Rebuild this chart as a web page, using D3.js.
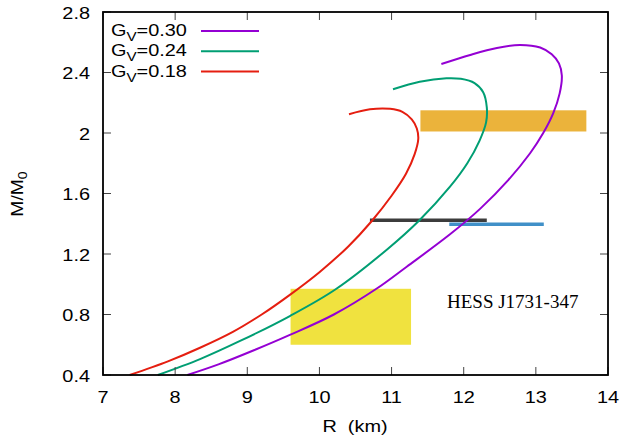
<!DOCTYPE html>
<html>
<head>
<meta charset="utf-8">
<script src="https://cdn.jsdelivr.net/npm/d3@7"></script>
<style>
  body { margin: 0; background: #fff; }
  svg { display: block; }
  text { font-family: "Liberation Sans", Arial, sans-serif; }
</style>
</head>
<body>
<svg id="chart" width="631" height="438"></svg>
<script>
// ---------- data ----------
const seriesLabels = ["0.30", "0.24", "0.18"];
const seriesColors = ["#9400d3", "#009e73", "#e51e10"];

// mass–radius curves: [R (km), M/M0]
const curveGv030 = [
  [8.17,0.40],[8.6,0.47],[9.1,0.565],[9.59,0.665],[10.2,0.80],[10.79,0.97],
  [11.21,1.116],[11.81,1.33],[12.23,1.50],[12.62,1.69],[12.92,1.866],[13.10,1.998],
  [13.24,2.13],[13.33,2.262],[13.36,2.38],[13.32,2.46],[13.22,2.52],[13.06,2.565],
  [12.78,2.582],[12.46,2.562],[12.09,2.516],[11.69,2.456]
];
const curveGv024 = [
  [7.76,0.40],[8.345,0.505],[8.9,0.625],[9.59,0.79],[10.22,0.965],[10.95,1.235],
  [11.39,1.425],[11.81,1.645],[12.05,1.80],[12.22,1.95],[12.31,2.07],[12.32,2.17],
  [12.27,2.27],[12.15,2.33],[11.96,2.358],[11.76,2.362],[11.39,2.339],[11.02,2.289]
];
const curveGv018 = [
  [7.37,0.40],[7.9,0.49],[8.345,0.58],[8.8,0.685],[9.2,0.80],[9.59,0.93],
  [10.0,1.08],[10.4,1.25],[10.72,1.415],[11.0,1.585],[11.2,1.73],[11.32,1.86],
  [11.37,1.96],[11.35,2.03],[11.28,2.09],[11.15,2.14],[10.98,2.16],[10.70,2.157],
  [10.41,2.124]
];
const curves = [curveGv030, curveGv024, curveGv018];

// observational constraints
const yellowBox = { r0: 9.60, r1: 11.27, m0: 0.60, m1: 0.97 };   // HESS J1731-347
const orangeBox = { r0: 11.40, r1: 13.70, m0: 2.01, m1: 2.15 };
const blackBar  = { r0: 10.70, r1: 12.32, m: 1.423 };
const blueBar   = { r0: 11.80, r1: 13.11, m: 1.396 };
const hessLabel = "HESS J1731-347";

const xTicks = [7, 8, 9, 10, 11, 12, 13, 14];
const yTicks = [0.4, 0.8, 1.2, 1.6, 2.0, 2.4, 2.8];
const yTickLabels = ["0.4", "0.8", "1.2", "1.6", "2", "2.4", "2.8"];

// ---------- layout ----------
const svg = d3.select("#chart");
const L = 103, R = 608, T = 12, B = 375;
const SX = 1.17; // horizontal stretch of the sans text
const x = d3.scaleLinear().domain([7, 14]).range([L, R]);
const y = d3.scaleLinear().domain([0.4, 2.8]).range([B, T]);

// constraint boxes & bars
svg.append("rect")
  .attr("x", x(yellowBox.r0)).attr("y", y(yellowBox.m1))
  .attr("width", x(yellowBox.r1) - x(yellowBox.r0))
  .attr("height", y(yellowBox.m0) - y(yellowBox.m1))
  .attr("fill", "#f0e23f");
svg.append("rect")
  .attr("x", x(orangeBox.r0)).attr("y", y(orangeBox.m1))
  .attr("width", x(orangeBox.r1) - x(orangeBox.r0))
  .attr("height", y(orangeBox.m0) - y(orangeBox.m1))
  .attr("fill", "#ebb33b");
svg.append("line")
  .attr("x1", x(blackBar.r0)).attr("x2", x(blackBar.r1))
  .attr("y1", y(blackBar.m)).attr("y2", y(blackBar.m))
  .attr("stroke", "#3c3c3c").attr("stroke-width", 3.5);
svg.append("line")
  .attr("x1", x(blueBar.r0)).attr("x2", x(blueBar.r1))
  .attr("y1", y(blueBar.m)).attr("y2", y(blueBar.m))
  .attr("stroke", "#4090c8").attr("stroke-width", 3.5);

// curves
const line = d3.line()
  .x(d => x(d[0])).y(d => y(d[1]))
  .curve(d3.curveCatmullRom.alpha(0.5));
curves.forEach((c, i) => {
  svg.append("path").datum(c)
    .attr("d", line)
    .attr("fill", "none")
    .attr("stroke", seriesColors[i])
    .attr("stroke-width", 2)
    .attr("stroke-linejoin", "round");
});

// HESS label
svg.append("text")
  .attr("x", 447).attr("y", 308)
  .style("font-family", "'Liberation Serif', 'Times New Roman', serif")
  .style("font-size", "19px")
  .attr("fill", "#000")
  .text(hessLabel);

// ticks (inward, all four sides)
const tickLen = 8;
const tg = svg.append("g").attr("stroke", "#444").attr("stroke-width", 1);
xTicks.forEach(t => {
  tg.append("line").attr("x1", x(t)).attr("x2", x(t)).attr("y1", B).attr("y2", B - tickLen);
  tg.append("line").attr("x1", x(t)).attr("x2", x(t)).attr("y1", T).attr("y2", T + tickLen);
});
yTicks.forEach(t => {
  tg.append("line").attr("x1", L).attr("x2", L + tickLen).attr("y1", y(t)).attr("y2", y(t));
  tg.append("line").attr("x1", R).attr("x2", R - tickLen).attr("y1", y(t)).attr("y2", y(t));
});

// tick labels
xTicks.forEach(t => {
  svg.append("text").attr("transform", `translate(${x(t)},403) scale(${SX},1)`)
    .attr("text-anchor", "middle").style("font-size", "17px").text(t);
});
yTicks.forEach((t, i) => {
  svg.append("text").attr("transform", `translate(90,${y(t) + 6.5}) scale(${SX},1)`)
    .attr("text-anchor", "end").style("font-size", "17px").text(yTickLabels[i]);
});

// border
svg.append("rect")
  .attr("x", L).attr("y", T).attr("width", R - L).attr("height", B - T)
  .attr("fill", "none").attr("stroke", "#000").attr("stroke-width", 1.8);

// axis titles
svg.append("text").attr("transform", `translate(355,432) scale(${SX},1)`)
  .attr("text-anchor", "middle").style("font-size", "17px")
  .attr("xml:space", "preserve")
  .text("R  (km)");
const yl = svg.append("text")
  .attr("transform", `translate(23,194) rotate(-90) scale(${SX},1)`)
  .attr("text-anchor", "middle").style("font-size", "16.5px");
yl.append("tspan").text("M/M");
yl.append("tspan").attr("dy", 4).style("font-size", "12px").text("0");

// legend
seriesLabels.forEach((lab, i) => {
  const by = 36 + i * 20.3;
  const t = svg.append("text").attr("transform", `translate(111,${by}) scale(${SX},1)`)
    .style("font-size", "17px");
  t.append("tspan").text("G");
  t.append("tspan").attr("dy", 5).style("font-size", "13px").text("V");
  t.append("tspan").attr("dy", -5).text("=" + lab);
  svg.append("line")
    .attr("x1", 201).attr("x2", 259)
    .attr("y1", by - 5).attr("y2", by - 5)
    .attr("stroke", seriesColors[i]).attr("stroke-width", 2);
});
</script>
</body>
</html>
